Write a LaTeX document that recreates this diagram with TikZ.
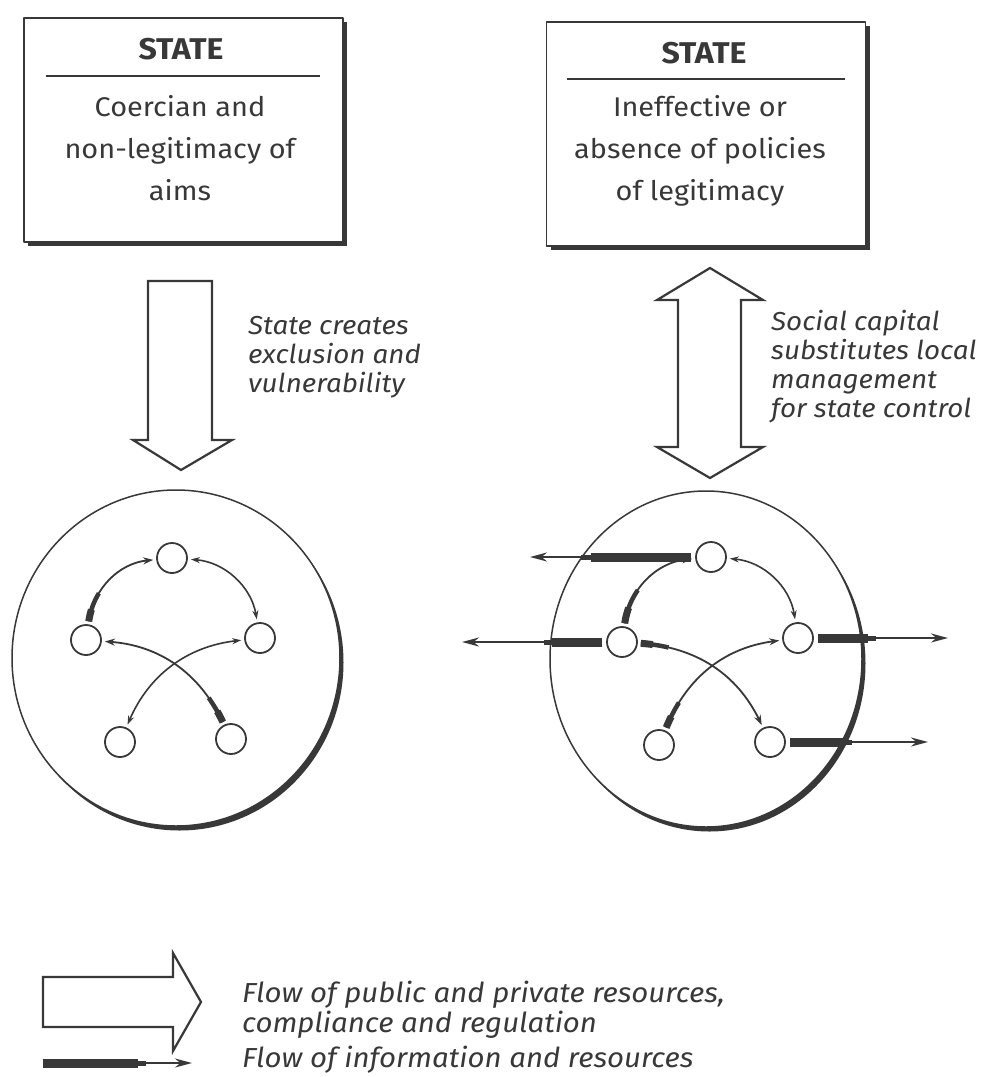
\documentclass[tikz,border=0pt]{standalone}
\usepackage{fontspec}
\setmainfont[FakeStretch=1.07]{Fira Sans}
\usetikzlibrary{arrows.meta,shadows}
\definecolor{ink}{HTML}{383838}

\begin{document}
\begin{tikzpicture}[x=1pt, y=-1pt, color=ink, line join=round,
  statebox/.style={draw, fill=white, line width=1.3pt, inner sep=0pt,
    minimum width=319pt, minimum height=224pt,
    general shadow={fill=ink, shadow xshift=4pt, shadow yshift=-4pt}},
  boxhead/.style={inner sep=0pt, font=\bfseries\fontsize{30}{34}\selectfont},
  boxbody/.style={inner sep=0pt, align=center, font=\fontsize{27}{42}\selectfont},
  note/.style={inner sep=0pt, anchor=west, align=left, font=\itshape\fontsize{26}{29}\selectfont},
  keytext/.style={note, font=\itshape\fontsize{27.5}{30}\selectfont},
  hollow/.style={draw, fill=white, line width=2.2pt, line join=miter},
  actor/.style={circle, draw, fill=white, line width=1.8pt, minimum size=30pt, inner sep=0pt},
  flow/.style={line width=1.8pt, -{Stealth[length=10pt,width=7pt]}, shorten <=3pt, shorten >=3pt},
  duo/.style={line width=1.6pt, {Stealth[length=9pt,width=6pt]}-{Stealth[length=9pt,width=6pt]},
    shorten <=3pt, shorten >=3pt},
  taper/.style 2 args={postaction={draw, arrows=-, line width=7pt, dash pattern=on #1 off 2000pt},
    postaction={draw, arrows=-, line width=4.5pt, dash pattern=on #2 off 2000pt}},
  outflow/.style={line width=1.8pt, -{Stealth[length=17pt,width=9pt]}, shorten <=4pt},
  bar/.style 2 args={postaction={draw, arrows=-, line width=9pt, dash pattern=on #1 off 2000pt},
    postaction={draw, arrows=-, line width=5pt, dash pattern=on #2 off 2000pt}}]

  \fill[white] (0,0) rectangle (993,1077);

  %% ════ state boxes ════
  \node[statebox] (lbox) at (183.5,130) {};
  \node[statebox] (rbox) at (706,134) {};
  \node[boxhead] (lhead) at (181,49) {STATE};
  \node[boxhead] (rhead) at (704,53) {STATE};
  \draw[line width=1.2pt] (46,76) -- (320,76);
  \draw[line width=1.2pt] (567,79) -- (845,79);
  \node[boxbody] (lbody) at (180,148) {Coercian and\\non-legitimacy of\\aims};
  \node[boxbody] (rbody) at (700,151) {Ineffective or\\absence of policies\\of legitimacy};

  %% ════ big hollow arrows ════
  \draw[hollow] (148,281) -- (212,281) -- (212,440) -- (232,440) -- (181,470)
    -- (133,440) -- (148,440) -- cycle;
  \draw[hollow] (710,268) -- (763,300) -- (741,300) -- (741,447) -- (763,447)
    -- (710,478) -- (657,447) -- (678,447) -- (678,300) -- (657,300) -- cycle;
  \node[note] (lnote) at (248,357) {State creates\\exclusion and\\vulnerability};
  \node[note] (rnote) at (771,367) {Social capital\\substitutes local\\management\\for state control};

  %% ════ communities (shadow crescent on lower right) ════
  \fill (179.5,662.5) ellipse [x radius=164, y radius=168];
  \draw[line width=1.5pt, fill=white] (176,658) ellipse [x radius=164, y radius=168];
  \fill (709.5,663.5) ellipse [x radius=156, y radius=168];
  \draw[line width=1.5pt, fill=white] (706,659) ellipse [x radius=156, y radius=168];

  %% ════ left community ════
  \node[actor] (l1) at (172,558) {};
  \node[actor] (l2) at (86,640) {};
  \node[actor] (l3) at (260,638) {};
  \node[actor] (l4) at (120,742) {};
  \node[actor] (l5) at (231,739) {};
  \draw[flow, taper={12pt}{30pt}] (l2) to[bend left=38] (l1);
  \draw[duo] (l1) to[bend left=38] (l3);
  \draw[flow, taper={12pt}{28pt}] (l5) to[bend right=30] (l2);
  \draw[duo] (l4) to[bend left=30] (l3);

  %% ════ right community ════
  \coordinate (o1) at (530,557);
  \coordinate (o2) at (462,642);
  \coordinate (o3) at (948,638);
  \coordinate (o5) at (928,742);
  \draw[outflow, bar={100pt}{110pt}] (711,557) ++(-16,0) -- (o1);
  \draw[outflow, bar={50pt}{58pt}] (622,642) ++(-16,0) -- (o2);
  \draw[outflow, bar={50pt}{58pt}] (798,638) ++(16,0) -- (o3);
  \draw[outflow, bar={55pt}{62pt}] (770,742) ++(16,0) -- (o5);
  \node[actor] (r1) at (711,557) {};
  \node[actor] (r2) at (622,642) {};
  \node[actor] (r3) at (798,638) {};
  \node[actor] (r4) at (659,745) {};
  \node[actor] (r5) at (770,742) {};
  \draw[flow, taper={16pt}{36pt}] (r2) to[bend left=38] (r1);
  \draw[duo] (r1) to[bend left=38] (r3);
  \draw[flow, taper={12pt}{28pt}] (r2) to[bend left=30] (r5);
  \draw[flow, taper={12pt}{28pt}] (r4) to[bend left=30] (r3);

  %% ════ legend ════
  \draw[hollow] (43,977) -- (173,977) -- (173,953) -- (201,1002) -- (173,1051)
    -- (173,1027) -- (43,1027) -- cycle;
  \node[keytext] (key1) at (242,1010)
    {Flow of public and private resources,\\compliance and regulation};
  \coordinate (k2a) at (43,1063);
  \coordinate (k2b) at (192,1063);
  \draw[outflow, shorten <=0pt, bar={95pt}{103pt}] (k2a) -- (k2b);
  \node[keytext] (key2) at (242,1060) {Flow of information and resources};

  \pgfresetboundingbox
  \path[use as bounding box] (0,0) rectangle (993,1077);
\end{tikzpicture}
\end{document}
